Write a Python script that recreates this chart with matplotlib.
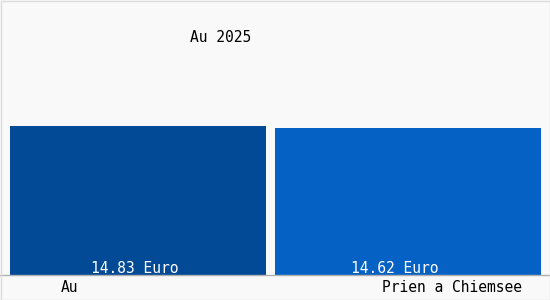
import matplotlib
matplotlib.use("Agg")
import matplotlib.pyplot as plt
from matplotlib.patches import Rectangle

title = "Au 2025"
categories = ["Au", "Prien a Chiemsee"]
values = [14.83, 14.62]
value_labels = ["14.83 Euro", "14.62 Euro"]
colors = ["#034a96", "#0561c4"]

W, H = 550, 300
fig = plt.figure(figsize=(W / 100, H / 100), dpi=100)
fig.patch.set_facecolor("#f9f9f9")

ax = fig.add_axes([0, 0, 1, 1])
ax.set_facecolor("#f9f9f9")
px_per_unit = 10.05
base_px = 25  # baseline distance from bottom (px)
ax.set_xlim(0, W)
ax.set_ylim(-base_px / px_per_unit, (H - base_px) / px_per_unit)
ax.axis("off")

bar_left = [10, 275]
bar_width = [256, 266]
ax.bar(bar_left, values, width=bar_width, align="edge", color=colors, linewidth=0)

# baseline
ax.axhline(0, color="#b0b0b0", linewidth=1)

font = "DejaVu Sans Mono"
label_x = [135, 395]
for x, lab in zip(label_x, value_labels):
    ax.text(x, 0.6, lab, color="white", ha="center", va="center",
            fontsize=10.5, family=font)

cat_x = [69, 452]
for x, c in zip(cat_x, categories):
    fig.text(x / W, 1 - 288 / H, c, color="black", ha="center", va="center",
             fontsize=10.5, family=font)

fig.text(221 / W, 1 - 38 / H, title, color="black", ha="center", va="center",
         fontsize=10.5, family=font)

# border
fig.patches.append(Rectangle((0.5 / W, 0.5 / H), 1 - 1 / W, 1 - 1 / H,
                             transform=fig.transFigure, fill=False,
                             edgecolor="#dddddd", linewidth=1))

fig.savefig("out.png", dpi=100, facecolor=fig.get_facecolor())
